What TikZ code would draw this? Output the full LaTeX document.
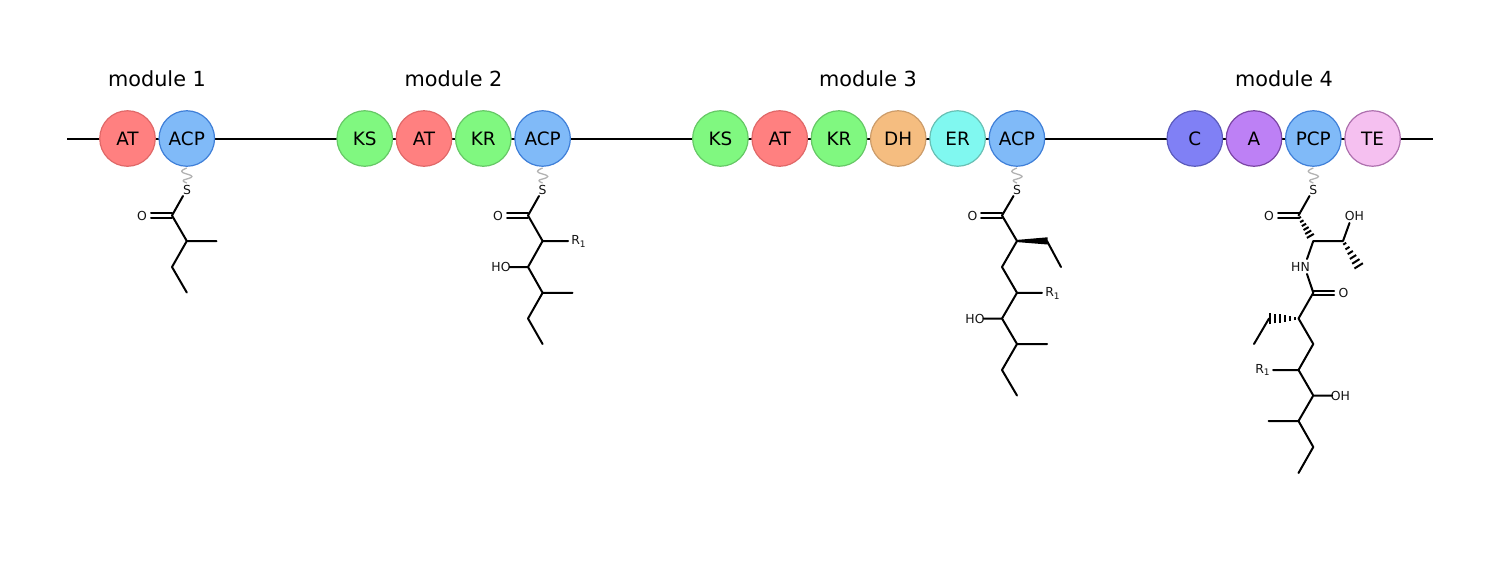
\documentclass[tikz,border=0pt]{standalone}
\usepackage{fontspec}
\setmainfont{DejaVu Sans}
\definecolor{redF}{HTML}{FF8080}\definecolor{redD}{HTML}{E06868}
\definecolor{grnF}{HTML}{80F880}\definecolor{grnD}{HTML}{66C866}
\definecolor{bluF}{HTML}{80BAF8}\definecolor{bluD}{HTML}{3F7FD8}
\definecolor{orgF}{HTML}{F5BD80}\definecolor{orgD}{HTML}{CC9C6A}
\definecolor{cynF}{HTML}{80F8F0}\definecolor{cynD}{HTML}{68C0B4}
\definecolor{indF}{HTML}{8080F5}\definecolor{indD}{HTML}{5A5ABC}
\definecolor{purF}{HTML}{BD80F5}\definecolor{purD}{HTML}{7A44A4}
\definecolor{pnkF}{HTML}{F5C0F0}\definecolor{pnkD}{HTML}{AE70AE}
\usetikzlibrary{calc}
\tikzset{
 x=1pt,y=-1pt,
 dom/.style={circle,draw=#1D,fill=#1F,line width=1.2pt,minimum size=55.5pt,inner sep=0pt,font=\fontsize{18.4}{20}\selectfont,text=black},
 title/.style={font=\fontsize{20.8}{24}\selectfont,inner sep=0pt},
 atom/.style={font=\fontsize{12.4}{14}\selectfont,inner sep=0pt,text=black!92},
 bond/.style={line width=2pt,line cap=round,line join=round},
 chain/.style={line width=2pt},
 link/.style={line width=1.3pt,draw=black!30,line join=round},
}
\newcommand{\Rone}{R\raisebox{-2.5pt}{\fontsize{9}{10}\selectfont 1}}
% hashed bond: from, to, half width at the wide end, first and last fraction
\newcommand{\hashbond}[5]{%
 \foreach \i in {0,...,5}{
  \pgfmathsetmacro{\t}{#4+\i*(#5-#4)/5}
  \pgfmathsetmacro{\w}{#3*(0.35+0.65*\i/5)}
  \draw[line width=2pt] ($(#1)!\t!(#2)!\w pt!90:(#2)$) -- ($(#1)!\t!(#2)!-\w pt!90:(#2)$);
 }}
\newcommand{\squig}[1]{%
 \draw[link] (#1,168) .. controls (#1-7,171) and (#1-7,172) .. (#1,174) .. controls (#1+7,176) and (#1+7,177) .. (#1,179) .. controls (#1-5,180) and (#1-5,181) .. (#1,183);}
\begin{document}
\begin{tikzpicture}
\useasboundingbox (0,0) rectangle (1500,584);
\coordinate (lineL) at (67,138.5);
\coordinate (lineR) at (1433,138.5);
\draw[chain] (lineL) -- (lineR);
% modules
\node[dom=red] (m1at) at (127.5,138.5) {AT};
\node[dom=blu] (m1acp) at (186.8,138.5) {ACP};
\node[dom=grn] (m2ks) at (364.7,138.5) {KS};
\node[dom=red] (m2at) at (424,138.5) {AT};
\node[dom=grn] (m2kr) at (483.3,138.5) {KR};
\node[dom=blu] (m2acp) at (542.6,138.5) {ACP};
\node[dom=grn] (m3ks) at (720.4,138.5) {KS};
\node[dom=red] (m3at) at (779.7,138.5) {AT};
\node[dom=grn] (m3kr) at (839,138.5) {KR};
\node[dom=org] (m3dh) at (898.2,138.5) {DH};
\node[dom=cyn] (m3er) at (957.6,138.5) {ER};
\node[dom=blu] (m3acp) at (1016.9,138.5) {ACP};
\node[dom=ind] (m4c) at (1194.8,138.5) {C};
\node[dom=pur] (m4a) at (1254,138.5) {A};
\node[dom=blu] (m4pcp) at (1313.3,138.5) {PCP};
\node[dom=pnk] (m4te) at (1372.6,138.5) {TE};
\node[title] (t1) at (157,79) {module 1};
\node[title] (t2) at (453.5,79) {module 2};
\node[title] (t3) at (868,79) {module 3};
\node[title] (t4) at (1284,79) {module 4};
% tethers
\squig{186.8}\squig{542.6}\squig{1016.9}\squig{1313.3}
% --- module 1
\node[atom] (aS) at (187,190) {S};
\node[atom] (aO) at (142,216) {O};
\coordinate (a1) at (172,215.5);\coordinate (a2) at (186.8,241);\coordinate (a3) at (216.5,241);
\coordinate (a4) at (172,267);\coordinate (a5) at (186.8,292.5);
\coordinate (aS1) at (183,196);
\draw[bond] (aS1) -- (a1) -- (a2) -- (a4) -- (a5) (a2) -- (a3);
\draw[bond] (151,213) -- (172,213) (151,217.5) -- (172,217.5);
% --- module 2
\node[atom] (bS) at (542.6,190) {S};
\node[atom] (bO) at (498,216) {O};
\node[atom] (bR) at (578.5,241.5) {\Rone};
\node[atom] (bHO) at (501,267) {HO};
\coordinate (b1) at (528,215.5);\coordinate (b2) at (542.6,241);\coordinate (b3) at (568,241);
\coordinate (b4) at (528,267);\coordinate (b5) at (542.6,292.8);\coordinate (b6) at (572.5,292.8);
\coordinate (b7) at (528,318.5);\coordinate (b8) at (542.6,344);\coordinate (bS1) at (539,196);
\coordinate (bH) at (509.5,267);
\draw[bond] (bS1) -- (b1) -- (b2) -- (b4) -- (b5) -- (b7) -- (b8) (b2) -- (b3) (b5) -- (b6) (bH) -- (b4);
\draw[bond] (507,213) -- (528,213) (507,217.5) -- (528,217.5);
% --- module 3
\node[atom] (cS) at (1017,190) {S};
\node[atom] (cO) at (972.5,216) {O};
\node[atom] (cR) at (1052.5,293.5) {\Rone};
\node[atom] (cHO) at (975,318.5) {HO};
\coordinate (c1) at (1002,215.5);\coordinate (c2) at (1017,241);\coordinate (c3) at (1047,241);
\coordinate (c4) at (1061,267);\coordinate (c5) at (1002,267);\coordinate (c6) at (1017,292.8);
\coordinate (c7) at (1042,292.8);\coordinate (c8) at (1002,318.5);\coordinate (c9) at (1017,344);
\coordinate (c10) at (1047,344);\coordinate (c11) at (1002,370);\coordinate (c12) at (1017,395.5);
\coordinate (cS1) at (1013.5,196);\coordinate (cH) at (983.5,318.5);
\draw[bond] (cS1) -- (c1) -- (c2) -- (c5) -- (c6) -- (c8) -- (c9) -- (c11) -- (c12) (c6) -- (c7) (c9) -- (c10) (cH) -- (c8) (c3) -- (c4);
\draw[bond] (981,213) -- (1002,213) (981,217.5) -- (1002,217.5);
\fill[line join=round] (1016,240) -- (1047.5,237.3) -- (1047.5,244.5) -- (1016,242) -- cycle;
% --- module 4
\node[atom] (dS) at (1313.3,190) {S};
\node[atom] (dO) at (1269,216) {O};
\node[atom] (dOH) at (1354.5,216) {OH};
\node[atom] (dHN) at (1300.5,267) {HN};
\node[atom] (dO2) at (1343.5,293) {O};
\node[atom] (dR) at (1262.5,370) {\Rone};
\node[atom] (dOH2) at (1340.5,396) {OH};
\coordinate (d1) at (1298.5,215.5);\coordinate (d2) at (1313.3,241);\coordinate (d3) at (1343,241);
\coordinate (d4) at (1360,268);\coordinate (d5) at (1313.3,292.8);\coordinate (d6) at (1298.5,318.5);
\coordinate (d7) at (1269,318.5);\coordinate (d8) at (1254,344);\coordinate (d9) at (1313.3,344);
\coordinate (d10) at (1298.5,370);\coordinate (d11) at (1273,370);\coordinate (d12) at (1313.3,395.5);
\coordinate (d13) at (1298.5,421);\coordinate (d14) at (1268.5,421);\coordinate (d15) at (1313.3,447);
\coordinate (d16) at (1298.5,473);\coordinate (dS1) at (1309.5,196);
\coordinate (dOHb) at (1349.5,223);\coordinate (dHNt) at (1307,259);\coordinate (dHNb) at (1307,274);
\coordinate (dOe) at (1332,395.5);
\draw[bond] (dS1) -- (d1) (dHNt) -- (d2) -- (d3) -- (dOHb) (dHNb) -- (d5) -- (d6) -- (d9) -- (d10) -- (d12) -- (d13) -- (d15) -- (d16) (d7) -- (d8) (d10) -- (d11) (d13) -- (d14) (d12) -- (dOe);
\draw[bond] (1278,213) -- (1298.5,213) (1278,217.5) -- (1298.5,217.5);
\draw[bond] (d5) ++(0,-2.3) -- (1334,290.5) (d5) ++(0,2.3) -- (1334,295.1);
\hashbond{d1}{d2}{4}{0.08}{0.8}
\hashbond{d3}{d4}{5}{0.1}{0.92}
\hashbond{d6}{d7}{5.5}{0.12}{0.97}
\end{tikzpicture}
\end{document}
